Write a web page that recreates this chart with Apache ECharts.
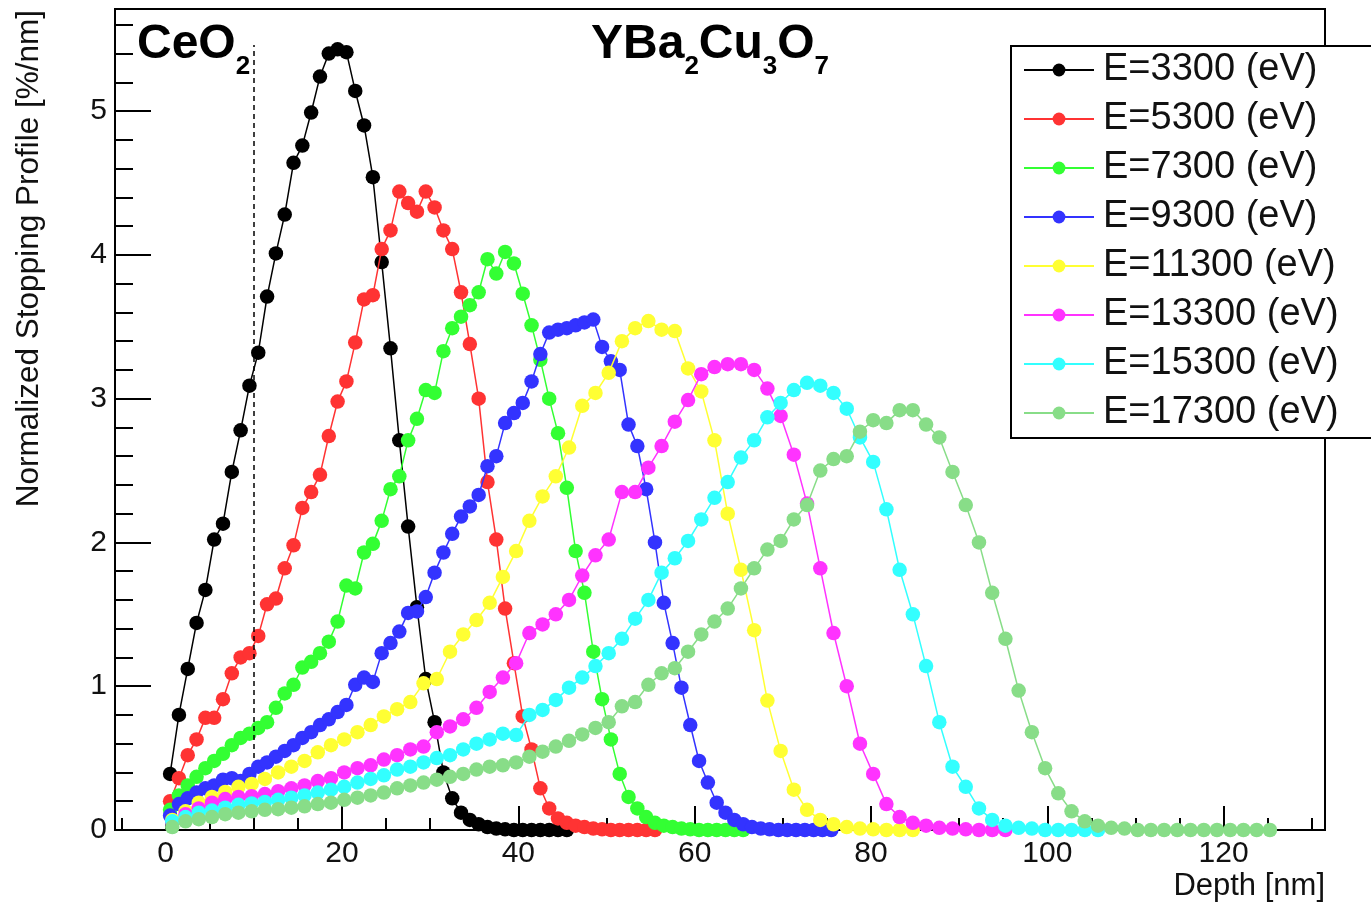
<!DOCTYPE html>
<html>
<head>
<meta charset="utf-8">
<script src="https://cdn.jsdelivr.net/npm/echarts@6/dist/echarts.min.js"></script>
<style>
html,body{margin:0;padding:0;background:#fff;}
#chart{width:1371px;height:904px;}
</style>
</head>
<body>
<div id="chart"></div>
<script>
// Depth bin centres [nm]: 1 nm bins (low energies) and 1.5 nm bins (high energies)
const depthFine = [0.5,1.5,2.5,3.5,4.5,5.5,6.5,7.5,8.5,9.5,10.5,11.5,12.5,13.5,14.5,15.5,16.5,17.5,18.5,19.5,
  20.5,21.5,22.5,23.5,24.5,25.5,26.5,27.5,28.5,29.5,30.5,31.5,32.5,33.5,34.5,35.5,36.5,37.5,38.5,39.5,
  40.5,41.5,42.5,43.5,44.5,45.5,46.5,47.5,48.5,49.5,50.5,51.5,52.5,53.5,54.5,55.5,56.5,57.5,58.5,59.5,
  60.5,61.5,62.5,63.5,64.5,65.5,66.5,67.5,68.5,69.5,70.5,71.5,72.5,73.5,74.5,75.5];
const depthCoarse = [0.75,2.25,3.75,5.25,6.75,8.25,9.75,11.25,12.75,14.25,15.75,17.25,18.75,20.25,21.75,23.25,
  24.75,26.25,27.75,29.25,30.75,32.25,33.75,35.25,36.75,38.25,39.75,41.25,42.75,44.25,45.75,47.25,48.75,50.25,
  51.75,53.25,54.75,56.25,57.75,59.25,60.75,62.25,63.75,65.25,66.75,68.25,69.75,71.25,72.75,74.25,75.75,77.25,
  78.75,80.25,81.75,83.25,84.75,86.25,87.75,89.25,90.75,92.25,93.75,95.25,96.75,98.25,99.75,101.25,102.75,
  104.25,105.75,107.25,108.75,110.25,111.75,113.25,114.75,116.25,117.75,119.25,120.75,122.25,123.75,125.25];

// Normalized stopping profiles [%/nm]
const e3300 = [0.39,0.80,1.12,1.44,1.67,2.02,2.13,2.49,2.78,3.09,3.32,3.71,4.01,4.28,4.64,4.76,4.99,5.24,5.40,5.43,
  5.41,5.14,4.90,4.54,3.95,3.35,2.71,2.11,1.55,1.05,0.75,0.40,0.22,0.12,0.07,0.04,0.02,0.01,0.005,0,0,0,0,0,0,0];
const e5300 = [0.20,0.36,0.52,0.63,0.78,0.78,0.91,1.09,1.20,1.23,1.35,1.57,1.61,1.82,1.98,2.24,2.35,2.47,2.74,2.98,
  3.12,3.39,3.69,3.72,4.04,4.17,4.44,4.36,4.30,4.44,4.33,4.17,4.04,3.74,3.38,3.00,2.42,2.02,1.54,1.16,
  0.79,0.56,0.29,0.15,0.08,0.05,0.03,0.02,0.01,0.005,0,0,0,0,0,0];
const e7300 = [0.14,0.24,0.31,0.37,0.43,0.48,0.53,0.59,0.64,0.67,0.71,0.75,0.85,0.95,1.01,1.13,1.17,1.23,1.31,1.45,
  1.70,1.68,1.93,1.99,2.15,2.37,2.46,2.71,2.86,3.06,3.04,3.33,3.49,3.57,3.65,3.74,3.97,3.87,4.02,3.94,
  3.73,3.51,3.27,3.00,2.76,2.38,1.94,1.65,1.24,0.91,0.63,0.39,0.23,0.15,0.09,0.05,0.03,0.02,0.01,0.005,
  0,0,0,0,0,0];
const e9300 = [0.10,0.18,0.22,0.26,0.29,0.31,0.35,0.36,0.34,0.39,0.44,0.47,0.51,0.55,0.59,0.64,0.68,0.73,0.77,0.82,
  0.87,1.01,1.06,1.03,1.23,1.30,1.38,1.51,1.52,1.62,1.79,1.93,2.06,2.18,2.25,2.33,2.53,2.60,2.83,2.90,
  2.97,3.12,3.31,3.46,3.48,3.49,3.51,3.53,3.55,3.36,3.26,3.20,2.82,2.67,2.37,2.00,1.58,1.30,0.99,0.73,
  0.48,0.33,0.19,0.12,0.07,0.04,0.02,0.01,0.005,0,0,0,0,0,0,0];
const e11300 = [0.07,0.13,0.19,0.23,0.265,0.30,0.32,0.355,0.40,0.44,0.48,0.54,0.59,0.63,0.68,0.73,0.79,0.84,0.89,1.02,
  1.05,1.24,1.36,1.46,1.58,1.76,1.94,2.15,2.32,2.46,2.66,2.95,3.04,3.18,3.40,3.49,3.54,3.48,3.47,3.21,
  3.05,2.71,2.20,1.81,1.39,0.90,0.55,0.28,0.14,0.07,0.04,0.02,0.01,0.005,0,0,0];
const e13300 = [0.05,0.11,0.15,0.19,0.215,0.23,0.235,0.25,0.27,0.29,0.31,0.34,0.36,0.40,0.43,0.45,0.49,0.52,0.56,0.58,
  0.68,0.72,0.77,0.85,0.96,1.06,1.16,1.37,1.43,1.50,1.60,1.77,1.91,2.02,2.35,2.35,2.52,2.67,2.84,2.99,
  3.17,3.22,3.24,3.24,3.20,3.07,2.88,2.61,2.27,1.82,1.37,1.00,0.60,0.39,0.18,0.09,0.05,0.03,0.015,0.01,
  0.005,0,0,0];
const e15300 = [0.06,0.09,0.12,0.135,0.155,0.175,0.185,0.195,0.21,0.225,0.24,0.26,0.28,0.30,0.33,0.355,0.38,0.42,0.44,0.47,
  0.50,0.52,0.56,0.60,0.63,0.67,0.66,0.80,0.835,0.905,0.99,1.06,1.14,1.23,1.33,1.47,1.60,1.79,1.89,2.01,
  2.16,2.31,2.42,2.59,2.71,2.87,2.97,3.06,3.11,3.09,3.04,2.93,2.73,2.56,2.23,1.81,1.50,1.14,0.75,0.44,
  0.30,0.15,0.07,0.03,0.015,0.01,0,0,0,0,0];
const e17300 = [0.02,0.06,0.075,0.09,0.11,0.12,0.13,0.14,0.145,0.155,0.165,0.18,0.19,0.21,0.225,0.24,0.26,0.29,0.31,0.33,
  0.35,0.37,0.39,0.42,0.44,0.45,0.47,0.51,0.545,0.58,0.62,0.665,0.71,0.75,0.86,0.89,1.01,1.09,1.125,1.24,
  1.36,1.45,1.54,1.68,1.82,1.95,2.01,2.16,2.26,2.50,2.58,2.60,2.77,2.85,2.83,2.92,2.92,2.82,2.73,2.49,
  2.26,2.00,1.65,1.33,0.97,0.68,0.43,0.255,0.13,0.06,0.03,0.015,0.01,0,0,0,0,0,0,0,0,0,0,0];

const seriesNames = ['E=3300 (eV)','E=5300 (eV)','E=7300 (eV)','E=9300 (eV)',
  'E=11300 (eV)','E=13300 (eV)','E=15300 (eV)','E=17300 (eV)'];

// Axis tick values
const xMajorTicks = [0,20,40,60,80,100,120];
const xMinorTicks = [-5,5,10,15,25,30,35,45,50,55,65,70,75,85,90,95,105,110,115,125,130];
const yMajorTicks = [0,1,2,3,4,5];
const yMinorTicks = [0.2,0.4,0.6,0.8,1.2,1.4,1.6,1.8,2.2,2.4,2.6,2.8,3.2,3.4,3.6,3.8,4.2,4.4,4.6,4.8,5.2,5.4,5.6];

// CeO2 / YBa2Cu3O7 interface
const interfaceDepth = 10;
const interfaceTop = 5.46;

const profiles = [
  {name: seriesNames[0], depth: depthFine,   values: e3300,  color: '#000000'},
  {name: seriesNames[1], depth: depthFine,   values: e5300,  color: '#ff3333'},
  {name: seriesNames[2], depth: depthFine,   values: e7300,  color: '#33ff33'},
  {name: seriesNames[3], depth: depthFine,   values: e9300,  color: '#3333ff'},
  {name: seriesNames[4], depth: depthCoarse, values: e11300, color: '#ffff33'},
  {name: seriesNames[5], depth: depthCoarse, values: e13300, color: '#ff33ff'},
  {name: seriesNames[6], depth: depthCoarse, values: e15300, color: '#33ffff'},
  {name: seriesNames[7], depth: depthCoarse, values: e17300, color: '#88dd88'}
];

const FONT = "'Liberation Sans', Arial, Helvetica, sans-serif";
const X_MIN = -5.75, X_MAX = 131.5, Y_MIN = 0, Y_MAX = 5.71;

const series = profiles.map((p, i) => ({
  type: 'line',
  name: p.name,
  xAxisIndex: 0,
  yAxisIndex: 0,
  data: p.values.map((v, k) => [p.depth[k], v]),
  symbol: 'circle',
  symbolSize: 14.5,
  showSymbol: true,
  itemStyle: {color: p.color},
  lineStyle: {color: p.color, width: 1.5},
  z: 2 + i,
  clip: false,
  animation: false,
  emphasis: {disabled: true}
}));

series[series.length - 1].markLine = {
  silent: true,
  symbol: ['none', 'none'],
  label: {show: false},
  lineStyle: {type: [5, 4], color: '#000', width: 1.5},
  data: [[{coord: [interfaceDepth, 0]}, {coord: [interfaceDepth, interfaceTop]}]],
  animation: false
};

const option = {
  animation: false,
  backgroundColor: '#ffffff',
  grid: {left: 115, right: 46, top: 9, bottom: 74, show: true, borderColor: '#000', borderWidth: 2, backgroundColor: 'transparent'},
  xAxis: [
    {
      type: 'value', min: X_MIN, max: X_MAX, position: 'bottom',
      axisLine: {show: true, onZero: false, lineStyle: {color: '#000', width: 2}},
      axisTick: {show: true, inside: true, length: 24, customValues: xMajorTicks, lineStyle: {color: '#000', width: 2}},
      axisLabel: {show: true, customValues: xMajorTicks, fontSize: 30, fontFamily: FONT, color: '#111', margin: 9},
      splitLine: {show: false}
    },
    {
      type: 'value', min: X_MIN, max: X_MAX, position: 'bottom',
      axisLine: {show: false, onZero: false},
      axisTick: {show: true, inside: true, length: 12, customValues: xMinorTicks, lineStyle: {color: '#000', width: 2}},
      axisLabel: {show: false},
      splitLine: {show: false}
    }
  ],
  yAxis: [
    {
      type: 'value', min: Y_MIN, max: Y_MAX, position: 'left',
      axisLine: {show: true, onZero: false, lineStyle: {color: '#000', width: 2}},
      axisTick: {show: true, inside: true, length: 36, customValues: yMajorTicks, lineStyle: {color: '#000', width: 2}},
      axisLabel: {show: true, customValues: yMajorTicks, fontSize: 30, fontFamily: FONT, color: '#111', margin: 8},
      splitLine: {show: false}
    },
    {
      type: 'value', min: Y_MIN, max: Y_MAX, position: 'left',
      axisLine: {show: false, onZero: false},
      axisTick: {show: true, inside: true, length: 18, customValues: yMinorTicks, lineStyle: {color: '#000', width: 2}},
      axisLabel: {show: false},
      splitLine: {show: false}
    }
  ],
  legend: {
    data: seriesNames,
    orient: 'vertical',
    left: 1011,
    top: 46,
    itemWidth: 70,
    itemHeight: 16,
    itemGap: 9,
    padding: [4, 60, 5, 12],
    backgroundColor: '#ffffff',
    borderColor: '#000',
    borderWidth: 2,
    borderRadius: 0,
    selectedMode: false,
    textStyle: {fontSize: 38, fontFamily: FONT, color: '#111', lineHeight: 40, padding: [0, 0, 0, 4]},
    z: 20
  },
  graphic: [
    {
      type: 'text', x: 29, y: 10, rotation: Math.PI / 2, z: 30,
      style: {text: 'Normalized Stopping Profile [%/nm]', fontSize: 31.5, fontFamily: FONT, fill: '#111', align: 'right', verticalAlign: 'middle'}
    },
    {
      type: 'text', x: 1325, y: 886, z: 30,
      style: {text: 'Depth [nm]', fontSize: 31, fontFamily: FONT, fill: '#111', align: 'right', verticalAlign: 'middle'}
    },
    {
      type: 'text', x: 137, y: 21, z: 30,
      style: {
        text: '{m|CeO}{s|2}', verticalAlign: 'top', align: 'left', fill: '#000',
        rich: {
          m: {fontSize: 48, fontWeight: 'bold', fontFamily: FONT, lineHeight: 48, verticalAlign: 'top', fill: '#000'},
          s: {fontSize: 26, fontWeight: 'bold', fontFamily: FONT, lineHeight: 26, padding: [33, 0, 0, 0], verticalAlign: 'top', fill: '#000'}
        }
      }
    },
    {
      type: 'text', x: 591, y: 21, z: 30,
      style: {
        text: '{m|YBa}{s|2}{m|Cu}{s|3}{m|O}{s|7}', verticalAlign: 'top', align: 'left', fill: '#000',
        rich: {
          m: {fontSize: 48, fontWeight: 'bold', fontFamily: FONT, lineHeight: 48, verticalAlign: 'top', fill: '#000'},
          s: {fontSize: 26, fontWeight: 'bold', fontFamily: FONT, lineHeight: 26, padding: [33, 0, 0, 0], verticalAlign: 'top', fill: '#000'}
        }
      }
    }
  ],
  series: series
};

const chart = echarts.init(document.getElementById('chart'), null, {renderer: 'canvas'});
chart.setOption(option);
</script>
</body>
</html>
